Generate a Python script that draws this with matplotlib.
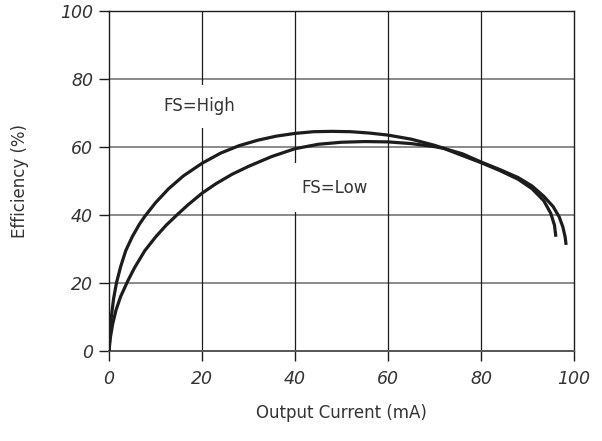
import matplotlib
matplotlib.use("Agg")
import matplotlib.pyplot as plt

# efficiency vs output current
fs_high_ma = [0, 0.2, 0.5, 1.0, 1.6, 2.5, 3.6, 5.0, 6.5, 7.7, 10, 12.8, 16, 20, 24, 28,
              32, 36, 40, 44, 48, 52, 56, 60, 65, 70, 72, 75, 80, 84, 88, 91, 93.5,
              95.0, 95.8, 96.1]
fs_high_eff = [0, 5, 10, 15.5, 20, 24.8, 29.5, 33.6, 37.2, 39.6, 43.6, 47.7, 51.5, 55.2, 58.2, 60.4,
               62.0, 63.2, 64.0, 64.5, 64.6, 64.5, 64.1, 63.5, 62.3, 60.5, 59.6, 58.0, 55.4, 53.1, 50.5, 47.7, 44.2,
               40.5, 37.0, 33.6]

fs_low_ma = [0, 0.3, 0.8, 1.5, 2.5, 4.0, 5.5, 7.7, 10, 12.3, 14.6, 17, 20, 23, 26.5,
             30, 35, 40, 45, 50, 55, 60, 65, 70, 72, 76, 80, 84, 88, 91, 93.5,
             95.5, 96.8, 97.6, 98.1, 98.3]
fs_low_eff = [0, 4, 8, 12, 16, 20.5, 24.5, 29.5, 33.5, 37, 40, 43, 46.4, 49.2, 52,
              54.3, 57.2, 59.5, 60.8, 61.4, 61.6, 61.5, 61.0, 60.1, 59.6, 58.0, 55.6, 53.4, 51.0, 48.5, 45.5,
              42.5, 39.5, 36.5, 33.5, 31.2]

x_ticks = [0, 20, 40, 60, 80, 100]
y_ticks = [0, 20, 40, 60, 80, 100]

ink = "#1c1c1c"
text_col = "#333333"

fig = plt.figure(figsize=(6.02, 4.41), dpi=100)
ax = fig.add_axes([109 / 602, 90 / 441, 465 / 602, 340 / 441])

# horizontal grid in grey, vertical grid in dark ink
for y in y_ticks[1:-1]:
    ax.axhline(y, color="#8a8a8a", lw=1.4, zorder=1)
for x in x_ticks[1:-1]:
    ax.axvline(x, color=ink, lw=0.9, zorder=1)

for xs, ys in [(fs_high_ma, fs_high_eff), (fs_low_ma, fs_low_eff)]:
    ax.plot(xs, ys, color=ink, lw=2.3, solid_capstyle="butt",
            solid_joinstyle="round", zorder=3)

# white boxes behind the labels cut the grid lines
ax.text(19.4, 72, "FS=High", ha="center", va="center", fontsize=12,
        color=text_col, bbox=dict(facecolor="white", edgecolor="none", pad=9), zorder=2)
ax.text(48.6, 48, "FS=Low", ha="center", va="center", fontsize=12,
        color=text_col, bbox=dict(facecolor="white", edgecolor="none", pad=11), zorder=2)

ax.set_xlim(0, 100)
ax.set_ylim(0, 100)
ax.set_xticks(x_ticks)
ax.set_yticks(y_ticks)
ax.set_xticklabels([str(v) for v in x_ticks], fontsize=12.5, style="italic", color=text_col)
ax.set_yticklabels([str(v) for v in y_ticks], fontsize=12.5, style="italic", color=text_col)
ax.tick_params(axis="both", direction="out", length=7.5, width=1.0, color=ink)
ax.tick_params(axis="x", pad=6)
ax.tick_params(axis="y", pad=4)

for side in ["left", "right", "top"]:
    ax.spines[side].set_color(ink)
    ax.spines[side].set_linewidth(1.0)
ax.spines["bottom"].set_color("#555555")
ax.spines["bottom"].set_linewidth(1.4)

ax.set_xlabel("Output Current (mA)", fontsize=12, color=text_col, labelpad=12)
ax.set_ylabel("Efficiency (%)", fontsize=12, color=text_col, labelpad=22)

fig.savefig("out.png", dpi=100)
